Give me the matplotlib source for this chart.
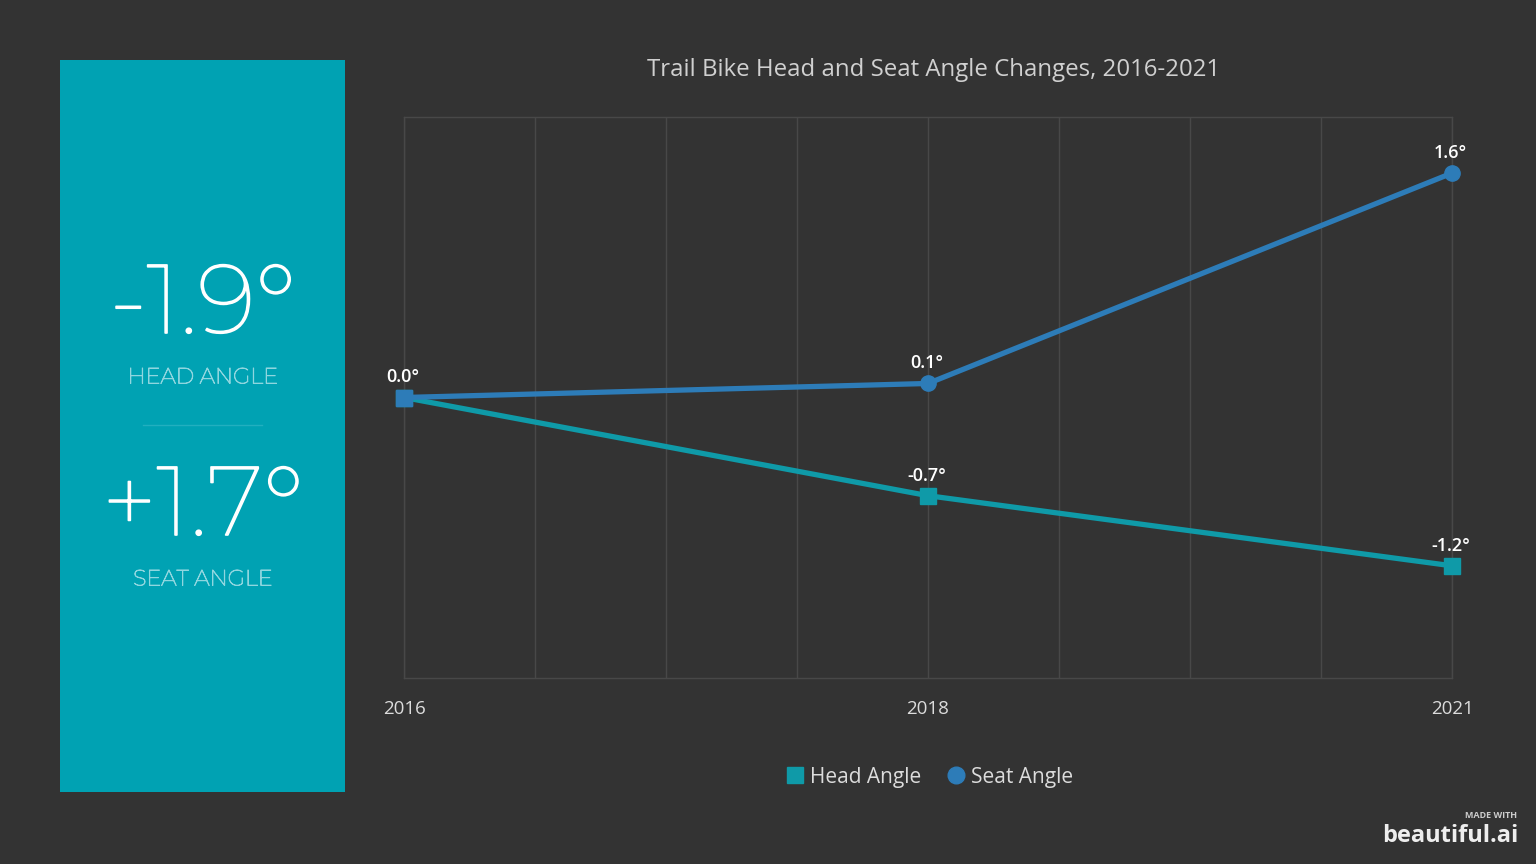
import matplotlib.pyplot as plt
import matplotlib.patheffects as pe
from matplotlib.patches import Rectangle
from matplotlib.lines import Line2D
import numpy as np

# data
years = ['2016', '2018', '2021']
head_angle = [0.0, -0.7, -1.2]
seat_angle = [0.0, 0.1, 1.6]
head_total = '-1.9°'
seat_total = '+1.7°'

bg = '#333333'
teal = '#00a2b3'
head_col = '#0f9aa8'
seat_col = '#2d7cb8'
grid_col = '#484848'
txt_col = '#dcdcdc'
lab_col = '#8fd6df'

thin = ['Montserrat', 'Open Sans', 'DejaVu Sans']
plt.rcParams['font.family'] = ['Open Sans', 'DejaVu Sans']

fig = plt.figure(figsize=(15.36, 8.64), dpi=100, facecolor=bg)

# side panel
fig.patches.append(Rectangle((60 / 1536, 1 - 792 / 864), 285 / 1536, 732 / 864,
                             transform=fig.transFigure, facecolor=teal, edgecolor='none'))
cx = 203 / 1536
big_fx = [pe.withStroke(linewidth=1.2, foreground='white')]
lab_fx = [pe.withStroke(linewidth=0.6, foreground=lab_col)]
fig.text(cx, 1 - 306 / 864, head_total, color='white', fontsize=70, family=thin,
         ha='center', va='center', path_effects=big_fx)
fig.text(cx, 1 - 377 / 864, 'HEAD ANGLE', color=lab_col, fontsize=16, family=thin,
         ha='center', va='center', path_effects=lab_fx)
fig.add_artist(Line2D([143 / 1536, 262 / 1536], [1 - 425 / 864] * 2, transform=fig.transFigure,
                      color='#22afbf', lw=1))
fig.text(cx, 1 - 508 / 864, seat_total, color='white', fontsize=70, family=thin,
         ha='center', va='center', path_effects=big_fx)
fig.text(cx, 1 - 579 / 864, 'SEAT ANGLE', color=lab_col, fontsize=16, family=thin,
         ha='center', va='center', path_effects=lab_fx)

# chart
ax = fig.add_axes([404 / 1536, 1 - 678 / 864, 1048 / 1536, 561 / 864])
ax.set_facecolor(bg)
x = np.arange(len(years))

ax.plot(x, head_angle, color=head_col, lw=3.8, marker='s', markersize=11, zorder=3,
        label='Head Angle', clip_on=False)
ax.plot(x, seat_angle, color=seat_col, lw=3.8, marker='o', markersize=11, zorder=4,
        label='Seat Angle', clip_on=False)
# square at shared start point drawn on top
ax.plot([x[0]], [seat_angle[0]], marker='s', markersize=12, color=seat_col, zorder=5,
        linestyle='none', clip_on=False)

labels = [(x[0], head_angle[0])] + list(zip(x[1:], head_angle[1:])) + list(zip(x[1:], seat_angle[1:]))
for xi, v in labels:
    ax.annotate(f'{v:.1f}°', (xi, v), xytext=(-1, 8), textcoords='offset points',
                ha='center', va='bottom', color='white', fontsize=13, fontweight='semibold')

ax.set_xlim(0, 2)
ax.set_ylim(-2, 2)
ax.set_xticks(np.arange(0, 2.01, 0.25), minor=True)
ax.set_xticks(x)
ax.set_xticklabels(years, color=txt_col, fontsize=13.5)
ax.set_yticks([])
ax.tick_params(axis='x', which='both', length=0, pad=16)
ax.grid(axis='x', which='both', color=grid_col, lw=1)
for s in ax.spines.values():
    s.set_color(grid_col)
    s.set_linewidth(1)

fig.text(934 / 1536, 1 - 70 / 864, 'Trail Bike Head and Seat Angle Changes, 2016-2021',
         color='#d0d0d0', fontsize=17.3, ha='center', va='center')

handles = [Line2D([], [], marker='s', color=head_col, linestyle='none', markersize=12),
           Line2D([], [], marker='o', color=seat_col, linestyle='none', markersize=12)]
fig.legend(handles, ['Head Angle', 'Seat Angle'], loc='center', bbox_to_anchor=(929 / 1536, 1 - 777 / 864),
           ncol=2, frameon=False, fontsize=15, labelcolor=txt_col, handletextpad=0.2,
           columnspacing=1.2, handlelength=1)

# watermark
fig.text(1517 / 1536, 1 - 816 / 864, 'MADE WITH', color='#cccccc', fontsize=6.5,
         fontweight='bold', ha='right', va='center')
fig.text(1518 / 1536, 1 - 836 / 864, 'beautiful.ai', color='#eeeeee', fontsize=17,
         fontweight='bold', ha='right', va='center')

fig.savefig('out.png', facecolor=bg)
